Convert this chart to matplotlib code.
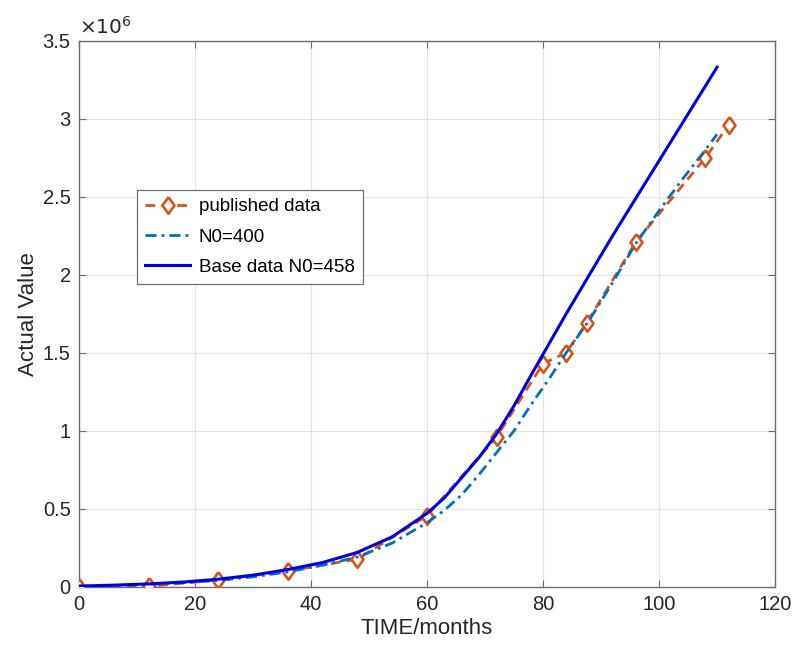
#!/usr/bin/env python3
"""
Published data vs. model runs (N0=400 and N0=458), MATLAB-style figure.
"""
import matplotlib
matplotlib.use('Agg')
import matplotlib.pyplot as plt
from matplotlib.ticker import FuncFormatter, MultipleLocator

# values in units of 1e6 (axis shows x10^6)
pub_t = [0, 12, 24, 36, 48, 60, 72, 80, 84, 87.5, 96, 108, 112]
pub_v = [0.0, 0.002, 0.043, 0.10, 0.177, 0.455, 0.96, 1.43, 1.50, 1.69, 2.21, 2.75, 2.96]

n400_t = [0, 6, 12, 18, 24, 30, 36, 42, 48, 54, 60, 63, 66, 69, 72, 75, 78, 81, 84, 88,
          92, 96, 100, 104, 108, 110]
n400_v = [0.003, 0.008, 0.015, 0.026, 0.04, 0.063, 0.095, 0.138, 0.19, 0.28, 0.41, 0.49,
          0.59, 0.72, 0.86, 1.0, 1.17, 1.33, 1.50, 1.71, 1.95, 2.20, 2.41, 2.61, 2.80, 2.90]

base_t = [0, 6, 12, 18, 24, 30, 36, 42, 48, 54, 60, 63, 66, 69, 72, 75, 78, 80, 84, 88,
          92, 96, 100, 104, 108, 110]
base_v = [0.004, 0.01, 0.018, 0.03, 0.048, 0.074, 0.11, 0.155, 0.22, 0.32, 0.47, 0.57,
          0.70, 0.83, 0.98, 1.16, 1.36, 1.49, 1.75, 2.0, 2.25, 2.49, 2.73, 2.97, 3.21, 3.33]

plt.rcParams['font.family'] = ['Liberation Sans', 'DejaVu Sans']

# MATLAB-like diamond (a bit narrower than a square diamond)
diamond = [(0, 1), (0.72, 0), (0, -1), (-0.72, 0), (0, 1)]

fig = plt.figure(figsize=(8.03, 6.54), dpi=100)
ax = fig.add_axes([0.0984, 0.1029, 0.8668, 0.8349])

ax.plot(pub_t, pub_v, color='#D95319', lw=2.0, dashes=(3.5, 2.2), marker=diamond,
        markersize=12, markerfacecolor='white', markeredgewidth=1.9,
        label='published data', zorder=3)
ax.plot(n400_t, n400_v, color='#0072BD', lw=2.0, dashes=(4, 1.8, 1, 1.8),
        label='N0=400', zorder=4)
ax.plot(base_t, base_v, color='#0000E6', lw=2.2, label='Base data N0=458', zorder=5)

ax.set_xlim(0, 120)
ax.set_ylim(0, 3.5)
ax.xaxis.set_major_locator(MultipleLocator(20))
ax.yaxis.set_major_locator(MultipleLocator(0.5))
ax.yaxis.set_major_formatter(FuncFormatter(lambda v, p: '%g' % v))

ax.grid(True, color='#e3e3e3', lw=0.8)
ax.set_axisbelow(True)
for s in ax.spines.values():
    s.set_color('#6e6e6e')
    s.set_linewidth(1.0)
ax.tick_params(direction='in', top=True, right=True, length=5, width=0.8,
               colors='#6e6e6e', labelcolor='#262626', labelsize=14.5, pad=6)

ax.set_xlabel('TIME/months', fontsize=16, color='#262626', labelpad=3)
ax.set_ylabel('Actual Value', fontsize=16, color='#262626', labelpad=3)
ax.text(0.0, 1.006, r'$\times10^{6}$', transform=ax.transAxes, fontsize=14.5,
        color='#262626', ha='left', va='bottom')

leg = ax.legend(loc='upper left', bbox_to_anchor=(0.083, 0.727), fontsize=13.5,
                fancybox=False, framealpha=1, edgecolor='#6e6e6e',
                handlelength=2.4, handletextpad=0.45, borderpad=0.45,
                labelspacing=0.7, borderaxespad=0)
leg.get_frame().set_linewidth(0.9)

fig.savefig('out.png', dpi=100)
